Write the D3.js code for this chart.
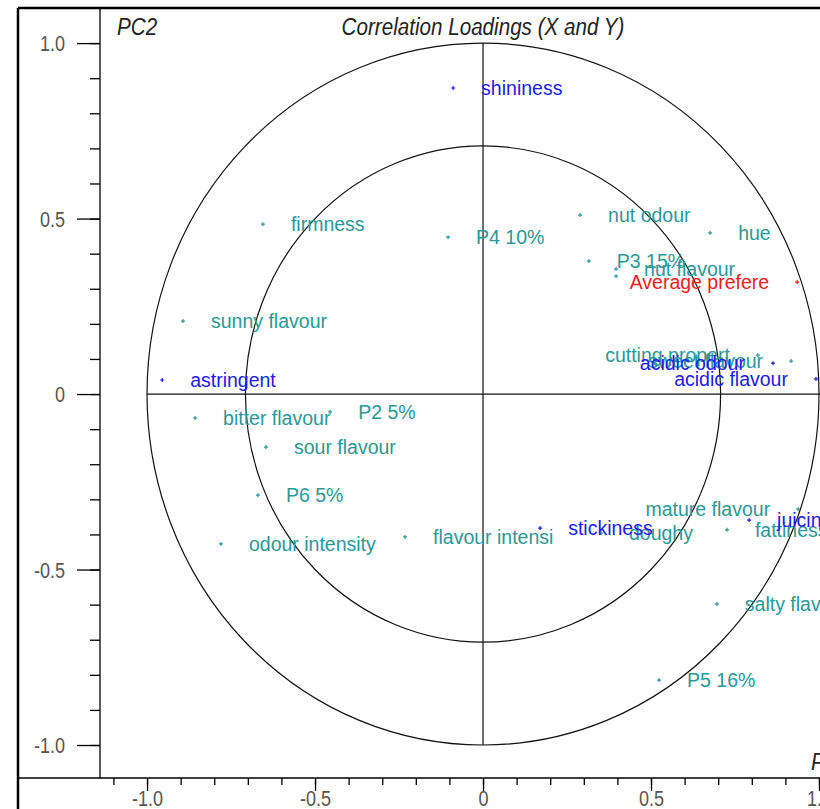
<!DOCTYPE html>
<html>
<head>
<meta charset="utf-8">
<script src="https://cdn.jsdelivr.net/npm/d3@7"></script>
<style>
  html, body { margin: 0; padding: 0; background: #fff; }
  svg { display: block; }
  .axt { font-family: "Liberation Sans", Arial, sans-serif; }
  .lbl { font-family: "Liberation Sans", Arial, sans-serif; font-size: 19.5px; }
</style>
</head>
<body>
<svg id="chart" width="820" height="809"></svg>
<script>
// Correlation loadings on PC1 / PC2
const names = [
  "shininess", "firmness", "P4 10%", "nut odour", "hue", "P3 15%", "nut flavour", "",
  "Average preference", "sunny flavour", "astringent", "bitter flavour", "P2 5%",
  "sour flavour", "P6 5%", "odour intensity", "flavour intensity", "stickiness",
  "doughy", "fattiness", "juiciness", "mature flavour", "salty flavour", "P5 16%",
  "cutting properties", "acidic odour", "sweet flavour", "acidic flavour"
];
const pc1 = [
  -0.089, -0.655, -0.104, 0.289, 0.676, 0.315, 0.396, 0.396,
  0.935, -0.893, -0.955, -0.857, -0.455,
  -0.646, -0.670, -0.780, -0.232, 0.170,
  0.351, 0.726, 0.792, 0.938, 0.696, 0.524,
  0.818, 0.863, 0.917, 0.991
];
const pc2 = [
  0.872, 0.484, 0.447, 0.510, 0.459, 0.379, 0.356, 0.336,
  0.319, 0.208, 0.040, -0.068, -0.051,
  -0.151, -0.288, -0.427, -0.407, -0.382,
  -0.396, -0.387, -0.359, -0.328, -0.598, -0.815,
  0.111, 0.088, 0.094, 0.043
];
// "x" = blue, "y" = teal, "r" = red
const kind = [
  "x", "y", "y", "y", "y", "y", "y", "y",
  "r", "y", "x", "y", "y",
  "y", "y", "y", "y", "x",
  "y", "y", "x", "y", "y", "y",
  "y", "x", "y", "x"
];
const yMajor = [-1.0, -0.5, 0, 0.5, 1.0];
const xMajor = [-1.0, -0.5, 0, 0.5, 1.0];
const yMinor = d3.range(-10, 11).map(d => d / 10);
const xMinor = d3.range(-11, 11).map(d => d / 10);
const tickText = d => d === 0 ? "0" : d.toFixed(1);

const colors = { x: "#1c1cf2", y: "#2b9898", r: "#f21c1c" };

const svg = d3.select("#chart");
const W = 820, H = 809;
const SX = 0.82; // horizontal condensing of axis lettering

const x = d3.scaleLinear().domain([-1.14, 1.0]).range([100, 819]);
const y = d3.scaleLinear().domain([-1.094, 1.1]).range([778, 8]);

// outer frame
svg.append("line").attr("x1", 18).attr("x2", W).attr("y1", 8).attr("y2", 8)
  .attr("stroke", "#000").attr("stroke-width", 2.5);
svg.append("line").attr("x1", 18).attr("x2", 18).attr("y1", 8).attr("y2", H)
  .attr("stroke", "#000").attr("stroke-width", 2.5);

// circles of 100% and 50% explained variance
[1, Math.SQRT1_2].forEach(r => {
  svg.append("ellipse")
    .attr("cx", x(0)).attr("cy", y(0))
    .attr("rx", x(r) - x(0)).attr("ry", y(0) - y(r))
    .attr("fill", "none").attr("stroke", "#111").attr("stroke-width", 1.2);
});
// zero lines
svg.append("line").attr("x1", x(-1)).attr("x2", W).attr("y1", y(0)).attr("y2", y(0))
  .attr("stroke", "#111").attr("stroke-width", 1.2);
svg.append("line").attr("x1", x(0)).attr("x2", x(0)).attr("y1", y(1)).attr("y2", y(-1))
  .attr("stroke", "#111").attr("stroke-width", 1.2);

// axes
const yMinorAxis = d3.axisLeft(y).tickValues(yMinor).tickSize(10).tickFormat("");
const yMajorAxis = d3.axisLeft(y).tickValues(yMajor).tickSize(23).tickPadding(12).tickFormat(tickText);
const gyMin = svg.append("g").attr("transform", "translate(100,0)").call(yMinorAxis);
const gy = svg.append("g").attr("transform", "translate(100,0)").call(yMajorAxis);

const xMinorAxis = d3.axisBottom(x).tickValues(xMinor).tickSize(7).tickFormat("");
const xMajorAxis = d3.axisBottom(x).tickValues(xMajor).tickSize(13).tickPadding(0).tickFormat(tickText);
const gxMin = svg.append("g").attr("transform", "translate(0,778)").call(xMinorAxis);
const gx = svg.append("g").attr("transform", "translate(0,778)").call(xMajorAxis);

[gyMin, gy, gxMin, gx].forEach(g => {
  g.select(".domain").remove();
  g.selectAll(".tick line").attr("stroke", "#000").attr("stroke-width", 1.3);
});
gy.selectAll(".tick text").attr("class", "axt").attr("font-size", 22)
  .attr("fill", "#555").attr("dy", "0.35em")
  .attr("x", -35 / SX).attr("transform", `scale(${SX},1)`);
gx.selectAll(".tick text").attr("class", "axt").attr("font-size", 22)
  .attr("fill", "#555").attr("y", 28).attr("dy", 0)
  .attr("transform", `scale(${SX},1)`);

// axis lines
svg.append("line").attr("x1", 100).attr("x2", 100).attr("y1", 8).attr("y2", 778)
  .attr("stroke", "#000").attr("stroke-width", 1.3);
svg.append("line").attr("x1", 18).attr("x2", W).attr("y1", 778).attr("y2", 778)
  .attr("stroke", "#000").attr("stroke-width", 1.3);

// titles
function condensedText(tx, ty, str, anchor, size, sx) {
  svg.append("text").attr("class", "axt")
    .attr("transform", `translate(${tx},${ty}) scale(${sx},1)`)
    .attr("text-anchor", anchor).attr("font-size", size)
    .attr("font-style", "italic").attr("fill", "#222").text(str);
}
condensedText(117, 35, "PC2", "start", 24, 0.86);
condensedText(483, 35, "Correlation Loadings (X and Y)", "middle", 24, 0.86);
condensedText(811, 770, "PC1", "start", 24, 0.86);

// points and labels
const pts = names.map((n, i) => ({ name: n, px: pc1[i], py: pc2[i], kind: kind[i] }));
const order = ["y", "x", "r"];
pts.sort((a, b) => order.indexOf(a.kind) - order.indexOf(b.kind));

const g = svg.append("g");
pts.forEach(p => {
  const cx = x(p.px), cy = y(p.py), c = colors[p.kind];
  g.append("path").attr("d", `M${cx - 2},${cy}H${cx + 2}M${cx},${cy - 2}V${cy + 2}`)
    .attr("stroke", c).attr("stroke-width", 1.2);
  const left = p.px > 0.8;
  g.append("text").attr("class", "lbl")
    .attr("x", left ? cx - 28 : cx + 28).attr("y", cy)
    .attr("dy", "0.36em")
    .attr("text-anchor", left ? "end" : "start")
    .attr("fill", c)
    .text(p.name.slice(0, 15));
});
</script>
</body>
</html>
